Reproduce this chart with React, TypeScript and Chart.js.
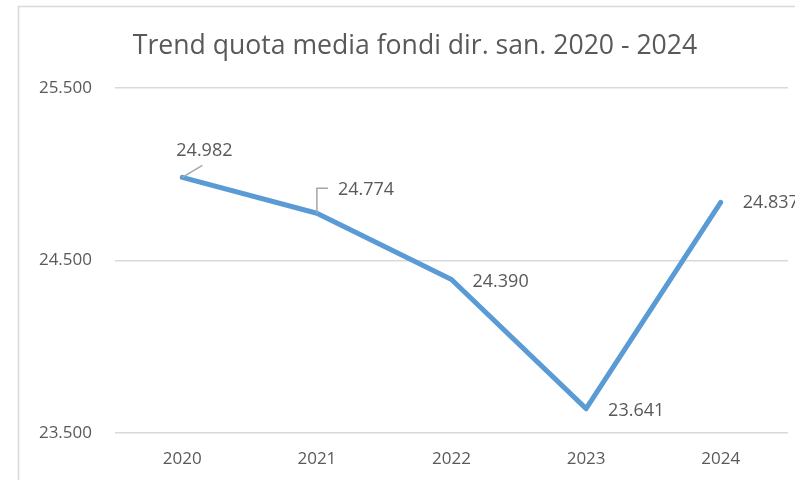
import React, { useEffect, useRef } from "react";
import { Chart, registerables } from "chart.js";

Chart.register(...registerables);

const categories = ["2020", "2021", "2022", "2023", "2024"];
const values = [24982, 24774, 24390, 23641, 24837];
const yTicks = [23500, 24500, 25500];
const titleText = "Trend quota media fondi dir. san. 2020 - 2024";

// label placement: [dx of text left, dy of text center, leader type]
const labelPlacement: Array<[number, number, string]> = [
  [-6, -26, "diag"],
  [21, -23, "bracket"],
  [21, 2, "none"],
  [22, 2, "none"],
  [22, 1, "none"],
];

const fmt = (v: number) =>
  Math.round(v).toString().replace(/\B(?=(\d{3})+(?!\d))/g, ".");

const FONT = "'Open Sans', sans-serif";
const TEXT = "#595959";
const GRID = "#D9D9D9";

const framePlugin = {
  id: "frame",
  beforeDraw(chart: any) {
    const ctx = chart.ctx;
    ctx.save();
    ctx.fillStyle = "#ffffff";
    ctx.fillRect(0, 0, chart.width, chart.height);
    ctx.strokeStyle = GRID;
    ctx.lineWidth = 1.5;
    ctx.strokeRect(18.5, 6.5, chart.width + 20, chart.height + 20);
    ctx.font = `26.6px ${FONT}`;
    ctx.fillStyle = TEXT;
    ctx.textAlign = "center";
    ctx.textBaseline = "middle";
    ctx.fillText(titleText, 415, 46);
    ctx.restore();
  },
};

const labelPlugin = {
  id: "dataLabels",
  afterDatasetsDraw(chart: any) {
    const ctx = chart.ctx;
    const meta = chart.getDatasetMeta(0);
    ctx.save();
    ctx.font = `18px ${FONT}`;
    ctx.fillStyle = TEXT;
    ctx.textAlign = "left";
    ctx.textBaseline = "middle";
    meta.data.forEach((pt: any, i: number) => {
      const [dx, dy, kind] = labelPlacement[i];
      const tx = pt.x + dx;
      const ty = pt.y + dy;
      ctx.strokeStyle = "#A6A6A6";
      ctx.lineWidth = 1.5;
      if (kind === "diag") {
        ctx.beginPath();
        ctx.moveTo(pt.x, pt.y);
        ctx.lineTo(pt.x + 20, pt.y - 12);
        ctx.stroke();
      } else if (kind === "bracket") {
        ctx.beginPath();
        ctx.moveTo(pt.x, pt.y);
        ctx.lineTo(pt.x, ty - 2);
        ctx.lineTo(pt.x + 11, ty - 2);
        ctx.stroke();
      }
      ctx.fillText(fmt(values[i]), tx, ty);
    });
    ctx.restore();
  },
};

export default function App() {
  const ref = useRef<HTMLCanvasElement | null>(null);
  useEffect(() => {
    if (!ref.current) return;
    const chart = new Chart(ref.current, {
      type: "line",
      data: {
        labels: categories,
        datasets: [
          {
            data: values,
            borderColor: "#5B9BD5",
            borderWidth: 5,
            pointRadius: 0,
            borderJoinStyle: "round",
            borderCapStyle: "round",
            tension: 0,
            fill: false,
          },
        ],
      },
      options: {
        responsive: false,
        animation: false,
        layout: { padding: { left: 0, right: 7, top: 88, bottom: 0 } },
        plugins: {
          legend: { display: false },
          tooltip: { enabled: false },
          title: { display: false },
        },
        scales: {
          x: {
            offset: true,
            grid: { display: false, drawTicks: false },
            border: { display: false },
            ticks: {
              color: TEXT,
              padding: 16,
              font: { family: FONT, size: 17 },
              maxRotation: 0,
            },
            afterFit(s: any) {
              s.height = 47;
            },
          },
          y: {
            min: 23500,
            max: 25500,
            afterBuildTicks(s: any) {
              s.ticks = yTicks.map((v) => ({ value: v }));
            },
            grid: { color: GRID, lineWidth: 1.5, drawTicks: false },
            border: { display: false },
            ticks: {
              color: TEXT,
              padding: 23,
              font: { family: FONT, size: 17 },
              callback: (v: any) => fmt(Number(v)),
            },
            afterFit(s: any) {
              s.width = 115;
            },
          },
        },
      },
      plugins: [framePlugin, labelPlugin],
    } as any);
    return () => chart.destroy();
  }, []);
  return (
    <div style={{ position: "absolute", left: 0, top: 0, width: 795, height: 480 }}>
      <canvas ref={ref} width={795} height={480} />
    </div>
  );
}
